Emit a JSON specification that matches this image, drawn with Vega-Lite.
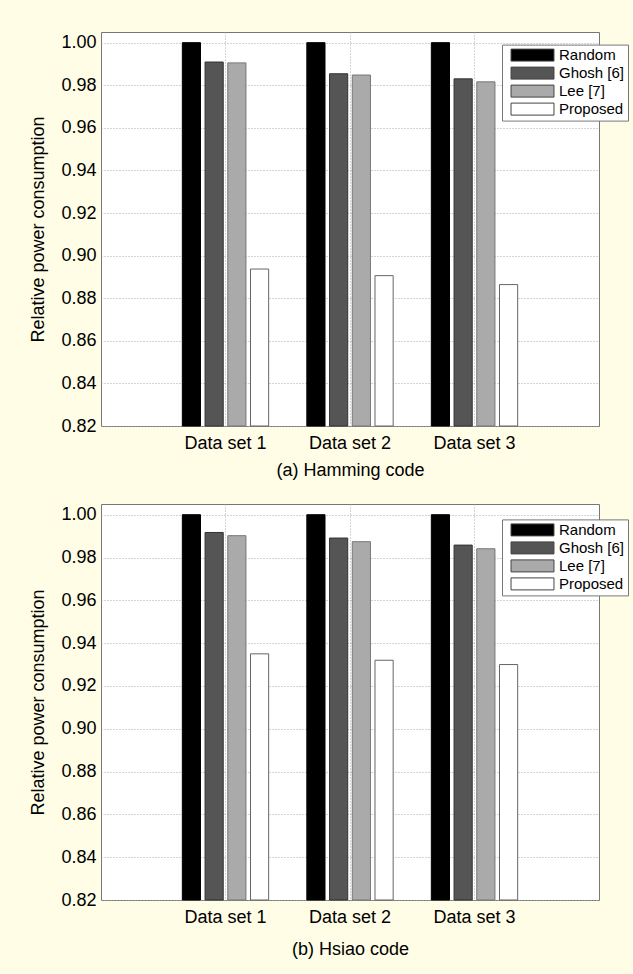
{
  "$schema": "https://vega.github.io/schema/vega-lite/v6.json",
  "background": "#fffde5",
  "padding": {"left": 29, "top": 31, "right": 9, "bottom": 17},
  "config": {
    "font": "Liberation Sans",
    "view": {"fill": "white", "stroke": "#777777", "strokeWidth": 1},
    "axis": {
      "labelFontSize": 18,
      "titleFontSize": 18,
      "titleFontWeight": "normal",
      "labelColor": "black",
      "titleColor": "black",
      "gridColor": "#a8a8a8",
      "gridDash": [1, 2],
      "gridWidth": 1,
      "domain": false,
      "ticks": false
    },
    "legend": {
      "orient": "none",
      "title": null,
      "symbolType": "M-3.58,-1H3.58V1H-3.58Z",
      "symbolSize": 144,
      "labelFontSize": 15,
      "labelColor": "black",
      "padding": 3,
      "rowPadding": 1,
      "strokeColor": "#777777",
      "fillColor": "white",
      "symbolStrokeColor": "#444444",
      "symbolStrokeWidth": 1,
      "symbolOffset": 20,
      "labelOffset": 19
    }
  },
  "datasets": {
    "hamming": [
      {"set": "Data set 1", "method": "Random", "value": 1.0},
      {"set": "Data set 1", "method": "Ghosh [6]", "value": 0.9909},
      {"set": "Data set 1", "method": "Lee [7]", "value": 0.9905},
      {"set": "Data set 1", "method": "Proposed", "value": 0.8937},
      {"set": "Data set 2", "method": "Random", "value": 1.0},
      {"set": "Data set 2", "method": "Ghosh [6]", "value": 0.9854},
      {"set": "Data set 2", "method": "Lee [7]", "value": 0.9848},
      {"set": "Data set 2", "method": "Proposed", "value": 0.8906},
      {"set": "Data set 3", "method": "Random", "value": 1.0},
      {"set": "Data set 3", "method": "Ghosh [6]", "value": 0.983},
      {"set": "Data set 3", "method": "Lee [7]", "value": 0.9816},
      {"set": "Data set 3", "method": "Proposed", "value": 0.8864}
    ],
    "hsiao": [
      {"set": "Data set 1", "method": "Random", "value": 1.0},
      {"set": "Data set 1", "method": "Ghosh [6]", "value": 0.9917},
      {"set": "Data set 1", "method": "Lee [7]", "value": 0.9902},
      {"set": "Data set 1", "method": "Proposed", "value": 0.935},
      {"set": "Data set 2", "method": "Random", "value": 1.0},
      {"set": "Data set 2", "method": "Ghosh [6]", "value": 0.9891},
      {"set": "Data set 2", "method": "Lee [7]", "value": 0.9874},
      {"set": "Data set 2", "method": "Proposed", "value": 0.932},
      {"set": "Data set 3", "method": "Random", "value": 1.0},
      {"set": "Data set 3", "method": "Ghosh [6]", "value": 0.9858},
      {"set": "Data set 3", "method": "Lee [7]", "value": 0.9841},
      {"set": "Data set 3", "method": "Proposed", "value": 0.93}
    ]
  },
  "bounds": "flush",
  "spacing": 78,
  "resolve": {"legend": {"color": "independent"}},
  "vconcat": [
    {
      "width": 498,
      "height": 394,
      "data": {"name": "hamming"},
      "mark": {"type": "bar", "strokeWidth": 1},
      "encoding": {
        "x": {
          "field": "set", "type": "nominal",
          "sort": ["Data set 1", "Data set 2", "Data set 3"],
          "scale": {"paddingInner": 0.27, "paddingOuter": 0.635},
          "axis": {"title": "(a) Hamming code", "labelAngle": 0, "labelPadding": 8, "titlePadding": 9, "grid": true, "bandPosition": 0.5}
        },
        "xOffset": {
          "field": "method", "type": "nominal",
          "sort": ["Random", "Ghosh [6]", "Lee [7]", "Proposed"],
          "scale": {"paddingInner": 0.2, "paddingOuter": 0.1}
        },
        "y": {
          "field": "value", "type": "quantitative",
          "scale": {"domain": [0.82, 1.005], "zero": false, "nice": false},
          "axis": {"title": "Relative power consumption", "values": [0.82, 0.84, 0.86, 0.88, 0.9, 0.92, 0.94, 0.96, 0.98, 1.0], "format": ".2f", "labelPadding": 5, "titlePadding": 13}
        },
        "y2": {"datum": 0.82},
        "color": {
          "field": "method", "type": "nominal",
          "scale": {"domain": ["Random", "Ghosh [6]", "Lee [7]", "Proposed"], "range": ["#000000", "#555555", "#aaaaaa", "#ffffff"]},
          "legend": {"legendX": 401, "legendY": 12.6}
        },
        "stroke": {
          "field": "method", "type": "nominal",
          "scale": {"domain": ["Random", "Ghosh [6]", "Lee [7]", "Proposed"], "range": ["#000000", "#333333", "#777777", "#666666"]},
          "legend": null
        }
      }
    },
    {
      "width": 498,
      "height": 396,
      "data": {"name": "hsiao"},
      "mark": {"type": "bar", "strokeWidth": 1},
      "encoding": {
        "x": {
          "field": "set", "type": "nominal",
          "sort": ["Data set 1", "Data set 2", "Data set 3"],
          "scale": {"paddingInner": 0.27, "paddingOuter": 0.635},
          "axis": {"title": "(b) Hsiao code", "labelAngle": 0, "labelPadding": 8.5, "titlePadding": 13.7, "grid": true, "bandPosition": 0.5}
        },
        "xOffset": {
          "field": "method", "type": "nominal",
          "sort": ["Random", "Ghosh [6]", "Lee [7]", "Proposed"],
          "scale": {"paddingInner": 0.2, "paddingOuter": 0.1}
        },
        "y": {
          "field": "value", "type": "quantitative",
          "scale": {"domain": [0.82, 1.005], "zero": false, "nice": false},
          "axis": {"title": "Relative power consumption", "values": [0.82, 0.84, 0.86, 0.88, 0.9, 0.92, 0.94, 0.96, 0.98, 1.0], "format": ".2f", "labelPadding": 5, "titlePadding": 13}
        },
        "y2": {"datum": 0.82},
        "color": {
          "field": "method", "type": "nominal",
          "scale": {"domain": ["Random", "Ghosh [6]", "Lee [7]", "Proposed"], "range": ["#000000", "#555555", "#aaaaaa", "#ffffff"]},
          "legend": {"legendX": 401, "legendY": 15.4}
        },
        "stroke": {
          "field": "method", "type": "nominal",
          "scale": {"domain": ["Random", "Ghosh [6]", "Lee [7]", "Proposed"], "range": ["#000000", "#333333", "#777777", "#666666"]},
          "legend": null
        }
      }
    }
  ]
}
